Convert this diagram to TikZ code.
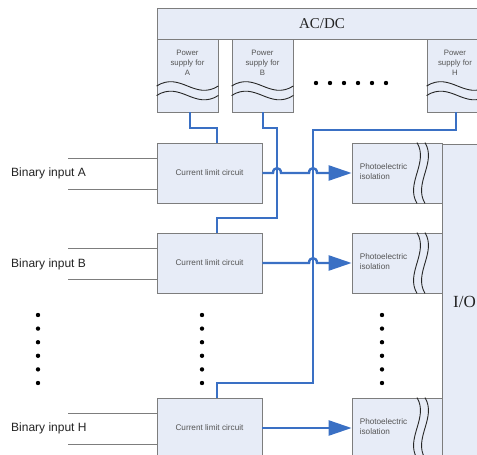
\documentclass[tikz,border=0pt]{standalone}
\usepackage{fontspec}
\setmainfont{Liberation Serif}
\setsansfont{Liberation Sans}
\usetikzlibrary{arrows.meta,calc}
\definecolor{boxfill}{RGB}{231,236,247}
\definecolor{boxdraw}{RGB}{125,125,125}
\definecolor{wireblue}{RGB}{58,112,196}
\definecolor{smalltext}{RGB}{85,85,85}
\definecolor{bigtext}{RGB}{35,35,35}
\begin{document}
\begin{tikzpicture}[x=1pt,y=-1pt,
  box/.style={draw=boxdraw,fill=boxfill,line width=0.8pt,inner sep=0pt},
  psbox/.style={box,minimum width=61pt,minimum height=73pt},
  clbox/.style={box,minimum width=105pt,minimum height=60pt,font=\sffamily\fontsize{8.2}{9}\selectfont,text=smalltext},
  phbox/.style={box,minimum width=90pt,minimum height=60pt},
  smalltxt/.style={font=\sffamily\fontsize{7.8}{10}\selectfont,text=smalltext,inner sep=0pt},
  phtxt/.style={font=\sffamily\fontsize{8.2}{10}\selectfont,text=smalltext,inner sep=0pt},
  inlabel/.style={font=\sffamily\fontsize{12}{14}\selectfont,text=bigtext,anchor=west,inner sep=0pt},
  serifbig/.style={font=\fontsize{15}{15}\selectfont,text=bigtext,inner sep=0pt},
  iofont/.style={font=\fontsize{17}{17}\selectfont,text=bigtext,inner sep=0pt},
  bl/.style={draw=wireblue,line width=2.4pt},
  gl/.style={draw=boxdraw,line width=0.9pt},
  wave/.style={draw=black!85,line width=0.9pt},
  arr/.style={-{Triangle[length=23pt,width=15pt]}},
  dotfill/.style={fill=black,draw=none}
]
\useasboundingbox (0,0) rectangle (477,455);
\clip (0,0) rectangle (477,455);

% AC/DC bar
\node[box,minimum width=330pt,minimum height=31pt,serifbig] (acdc) at (322,23.5) {AC/DC};

% power supplies
\node[psbox] (psA) at (187.5,75.5) {};
\node[psbox] (psB) at (262.5,75.5) {};
\node[psbox] (psH) at (457.5,75.5) {};
\node[smalltxt,align=center] (psAt) at (187.5,63) {Power\\supply for\\A};
\node[smalltxt,align=center] (psBt) at (262.5,63) {Power\\supply for\\B};
\node[smalltxt,align=center] (psHt) at (455,63) {Power\\supply for\\H};
\foreach \n in {psA,psB,psH}{
  \foreach \dy in {10.5,20}{
    \draw[wave] ($(\n.west)+(0,\dy)$) .. controls ($(\n.west)+(24,\dy-15)$) and ($(\n.east)+(-24,\dy+15)$) .. ($(\n.east)+(0,\dy)$);
  }
}
\foreach \i in {0,...,5}{
  \fill[dotfill] (316+14*\i,83) circle (2.2pt);
}

% current limit circuits
\node[clbox] (clA) at (209.5,173) {Current limit circuit};
\node[clbox] (clB) at (209.5,263) {Current limit circuit};
\node[clbox] (clH) at (209.5,428) {Current limit circuit};

% I/O block
\node[box,minimum width=78pt,minimum height=340pt] (io) at (481,314) {};
\node[iofont,anchor=west] (iot) at (453,302) {I/O};

% photoelectric isolation
\node[phbox] (phA) at (397,173) {};
\node[phbox] (phB) at (397,263) {};
\node[phbox] (phH) at (397,428) {};
\foreach \n in {phA,phB,phH}{
  \node[phtxt,align=left,anchor=west] at ($(\n.west)+(8,-1)$) {Photoelectric\\isolation};
  \foreach \dx in {20,28}{
    \draw[wave] ($(\n.north)+(\dx,0)$) .. controls ($(\n.north)+(\dx+12,20)$) and ($(\n.south)+(\dx-12,-20)$) .. ($(\n.south)+(\dx,0)$);
  }
}

% binary inputs
\node[inlabel] (inA) at (11,173) {Binary input A};
\node[inlabel] (inB) at (11,264) {Binary input B};
\node[inlabel] (inH) at (11,428) {Binary input H};
\foreach \n in {clA,clB,clH}{
  \draw[gl] ($(\n.west)+(0,-15)$) -- ++(-89,0);
  \draw[gl] ($(\n.west)+(0,16)$) -- ++(-89,0);
}

% vertical dots
\foreach \x in {38,202,382}{
  \foreach \i in {0,...,5}{
    \fill[dotfill] (\x,315+13.6*\i) circle (2.2pt);
  }
}

% supply wiring
\coordinate (jA) at (217,128);
\coordinate (jB1) at (277,128);
\coordinate (jB2) at (277,218);
\coordinate (jH1) at (313,130);
\coordinate (jH2) at (313,383);
\draw[bl] ($(psA.south)+(2.5,0)$) |- (jA) -- ($(clA.north)+(7.5,0)$);
\draw[bl] ($(psB.south)+(0.5,0)$) |- (jB1) -- (jB2) -| ($(clB.north)+(7.5,0)$);
\draw[bl] ($(psH.south)+(-1.5,0)$) |- (jH1) -- (jH2) -| ($(clH.north)+(7.5,0)$);

% outputs with hops
\draw[bl,arr] (clA.east) -- (273,173) .. controls (273,166.5) and (281,166.5) .. (281,173)
   -- (309,173) .. controls (309,166.5) and (317,166.5) .. (317,173) -- (phA.west);
\draw[bl,arr] (clB.east) -- (309,263) .. controls (309,256.5) and (317,256.5) .. (317,263) -- (phB.west);
\draw[bl,arr] (clH.east) -- (phH.west);
\end{tikzpicture}
\end{document}
